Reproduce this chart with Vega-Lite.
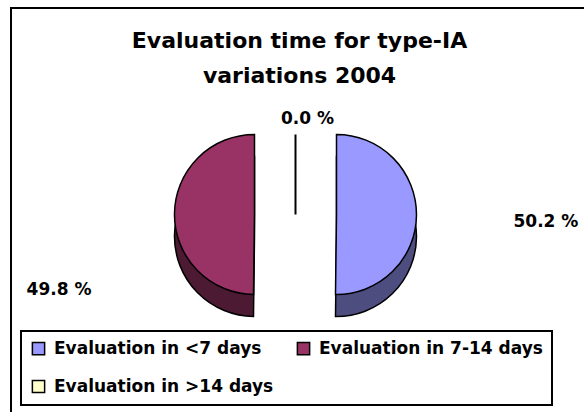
{
  "$schema": "https://vega.github.io/schema/vega-lite/v6.json",
  "width": 584,
  "height": 412,
  "autosize": {"type": "fit", "contains": "padding"},
  "padding": {"left": 8, "top": 8, "right": -4, "bottom": -4},
  "background": "white",
  "config": {
    "view": {"stroke": "black", "strokeWidth": 2},
    "font": "DejaVu Sans"
  },
  "title": {
    "text": ["Evaluation time for type-IA", "variations 2004"],
    "anchor": "middle",
    "offset": -80,
    "font": "DejaVu Sans",
    "fontSize": 22,
    "fontWeight": "bold",
    "color": "black",
    "lineHeight": 35
  },
  "data": {
    "values": [
      {"category": "Evaluation in <7 days", "value": 50.2},
      {"category": "Evaluation in 7-14 days", "value": 49.8},
      {"category": "Evaluation in >14 days", "value": 0.0}
    ]
  },
  "transform": [
    {"stack": "value", "groupby": [], "sort": [{"field": "value", "order": "descending"}], "as": ["v0", "v1"]},
    {"calculate": "(datum.v0 + datum.v1) / 2", "as": "mid"},
    {"calculate": "format(datum.value, '.1f') + ' %'", "as": "label"}
  ],
  "layer": [
    {
      "mark": {"type": "point", "opacity": 0},
      "encoding": {
        "x": {"field": "value", "type": "quantitative", "axis": null},
        "y": {"field": "value", "type": "quantitative", "axis": null}
      }
    },
    {
      "transform": [{"filter": "datum.category === 'Evaluation in <7 days'"}],
      "mark": {"type": "arc", "radius": 80, "xOffset": 37, "yOffset": 26, "fill": "#4D4D80", "stroke": "black", "strokeWidth": 1.5},
      "encoding": {
        "theta": {"field": "v0", "type": "quantitative", "scale": {"domain": [0, 100], "range": [0, 6.283185307179586]}},
        "theta2": {"field": "v1"}
      }
    },
    {
      "transform": [{"filter": "datum.category === 'Evaluation in 7-14 days'"}],
      "mark": {"type": "arc", "radius": 80, "xOffset": -45, "yOffset": 26, "fill": "#4D1A33", "stroke": "black", "strokeWidth": 1.5},
      "encoding": {
        "theta": {"field": "v0", "type": "quantitative", "scale": {"domain": [0, 100], "range": [0, 6.283185307179586]}},
        "theta2": {"field": "v1"}
      }
    },
    {
      "transform": [{"filter": "datum.category === 'Evaluation in <7 days'"}],
      "mark": {"type": "arc", "radius": 80, "xOffset": 37, "yOffset": 4, "stroke": "black", "strokeWidth": 1.5, "opacity": 1},
      "encoding": {
        "theta": {"field": "v0", "type": "quantitative", "scale": {"domain": [0, 100], "range": [0, 6.283185307179586]}},
        "theta2": {"field": "v1"},
        "color": {
          "field": "category",
          "type": "nominal",
          "scale": {
            "domain": ["Evaluation in <7 days", "Evaluation in 7-14 days", "Evaluation in >14 days"],
            "range": ["#9999FF", "#993366", "#FFFFCC"]
          },
          "legend": {
            "orient": "none",
            "legendX": 10,
            "legendY": 323,
            "title": null,
            "columns": 2,
            "direction": "horizontal",
            "symbolType": "square",
            "symbolSize": 150,
            "symbolStrokeColor": "black",
            "symbolStrokeWidth": 1.5,
            "symbolOpacity": 1,
            "labelFont": "DejaVu Sans",
            "labelFontSize": 17,
            "labelFontWeight": "bold",
            "labelColor": "black",
            "labelLimit": 400,
            "labelOffset": 7,
            "rowPadding": 19,
            "columnPadding": 20,
            "padding": 9,
            "strokeColor": "black",
            "encode": {"legend": {"update": {"strokeWidth": {"value": 2}}}}
          }
        }
      }
    },
    {
      "transform": [{"filter": "datum.category === 'Evaluation in 7-14 days'"}],
      "mark": {"type": "arc", "radius": 80, "xOffset": -45, "yOffset": 4, "stroke": "black", "strokeWidth": 1.5, "opacity": 1},
      "encoding": {
        "theta": {"field": "v0", "type": "quantitative", "scale": {"domain": [0, 100], "range": [0, 6.283185307179586]}},
        "theta2": {"field": "v1"},
        "color": {"field": "category", "type": "nominal"}
      }
    },
    {
      "transform": [{"filter": "datum.category === 'Evaluation in >14 days'"}],
      "mark": {"type": "arc", "radius": 80, "xOffset": -4, "yOffset": 4, "stroke": "black", "strokeWidth": 2, "opacity": 1},
      "encoding": {
        "theta": {"field": "v0", "type": "quantitative", "scale": {"domain": [0, 100], "range": [0, 6.283185307179586]}},
        "theta2": {"field": "v1"},
        "color": {"field": "category", "type": "nominal"}
      }
    },
    {
      "transform": [{"filter": "datum.category === 'Evaluation in <7 days'"}],
      "mark": {"type": "text", "radius": 177, "xOffset": 37, "yOffset": 10, "align": "left", "baseline": "middle", "font": "DejaVu Sans", "fontSize": 17, "fontWeight": "bold", "color": "black"},
      "encoding": {
        "theta": {"field": "mid", "type": "quantitative", "scale": {"domain": [0, 100], "range": [0, 6.283185307179586]}},
        "text": {"field": "label"}
      }
    },
    {
      "transform": [{"filter": "datum.category === 'Evaluation in 7-14 days'"}],
      "mark": {"type": "text", "radius": 163, "xOffset": -45, "yOffset": 81, "align": "right", "baseline": "middle", "font": "DejaVu Sans", "fontSize": 17, "fontWeight": "bold", "color": "black"},
      "encoding": {
        "theta": {"field": "mid", "type": "quantitative", "scale": {"domain": [0, 100], "range": [0, 6.283185307179586]}},
        "text": {"field": "label"}
      }
    },
    {
      "transform": [{"filter": "datum.category === 'Evaluation in >14 days'"}],
      "mark": {"type": "text", "radius": 92, "xOffset": 8, "yOffset": 0, "align": "center", "baseline": "middle", "font": "DejaVu Sans", "fontSize": 17, "fontWeight": "bold", "color": "black"},
      "encoding": {
        "theta": {"field": "mid", "type": "quantitative", "scale": {"domain": [0, 100], "range": [0, 6.283185307179586]}},
        "text": {"field": "label"}
      }
    }
  ]
}
